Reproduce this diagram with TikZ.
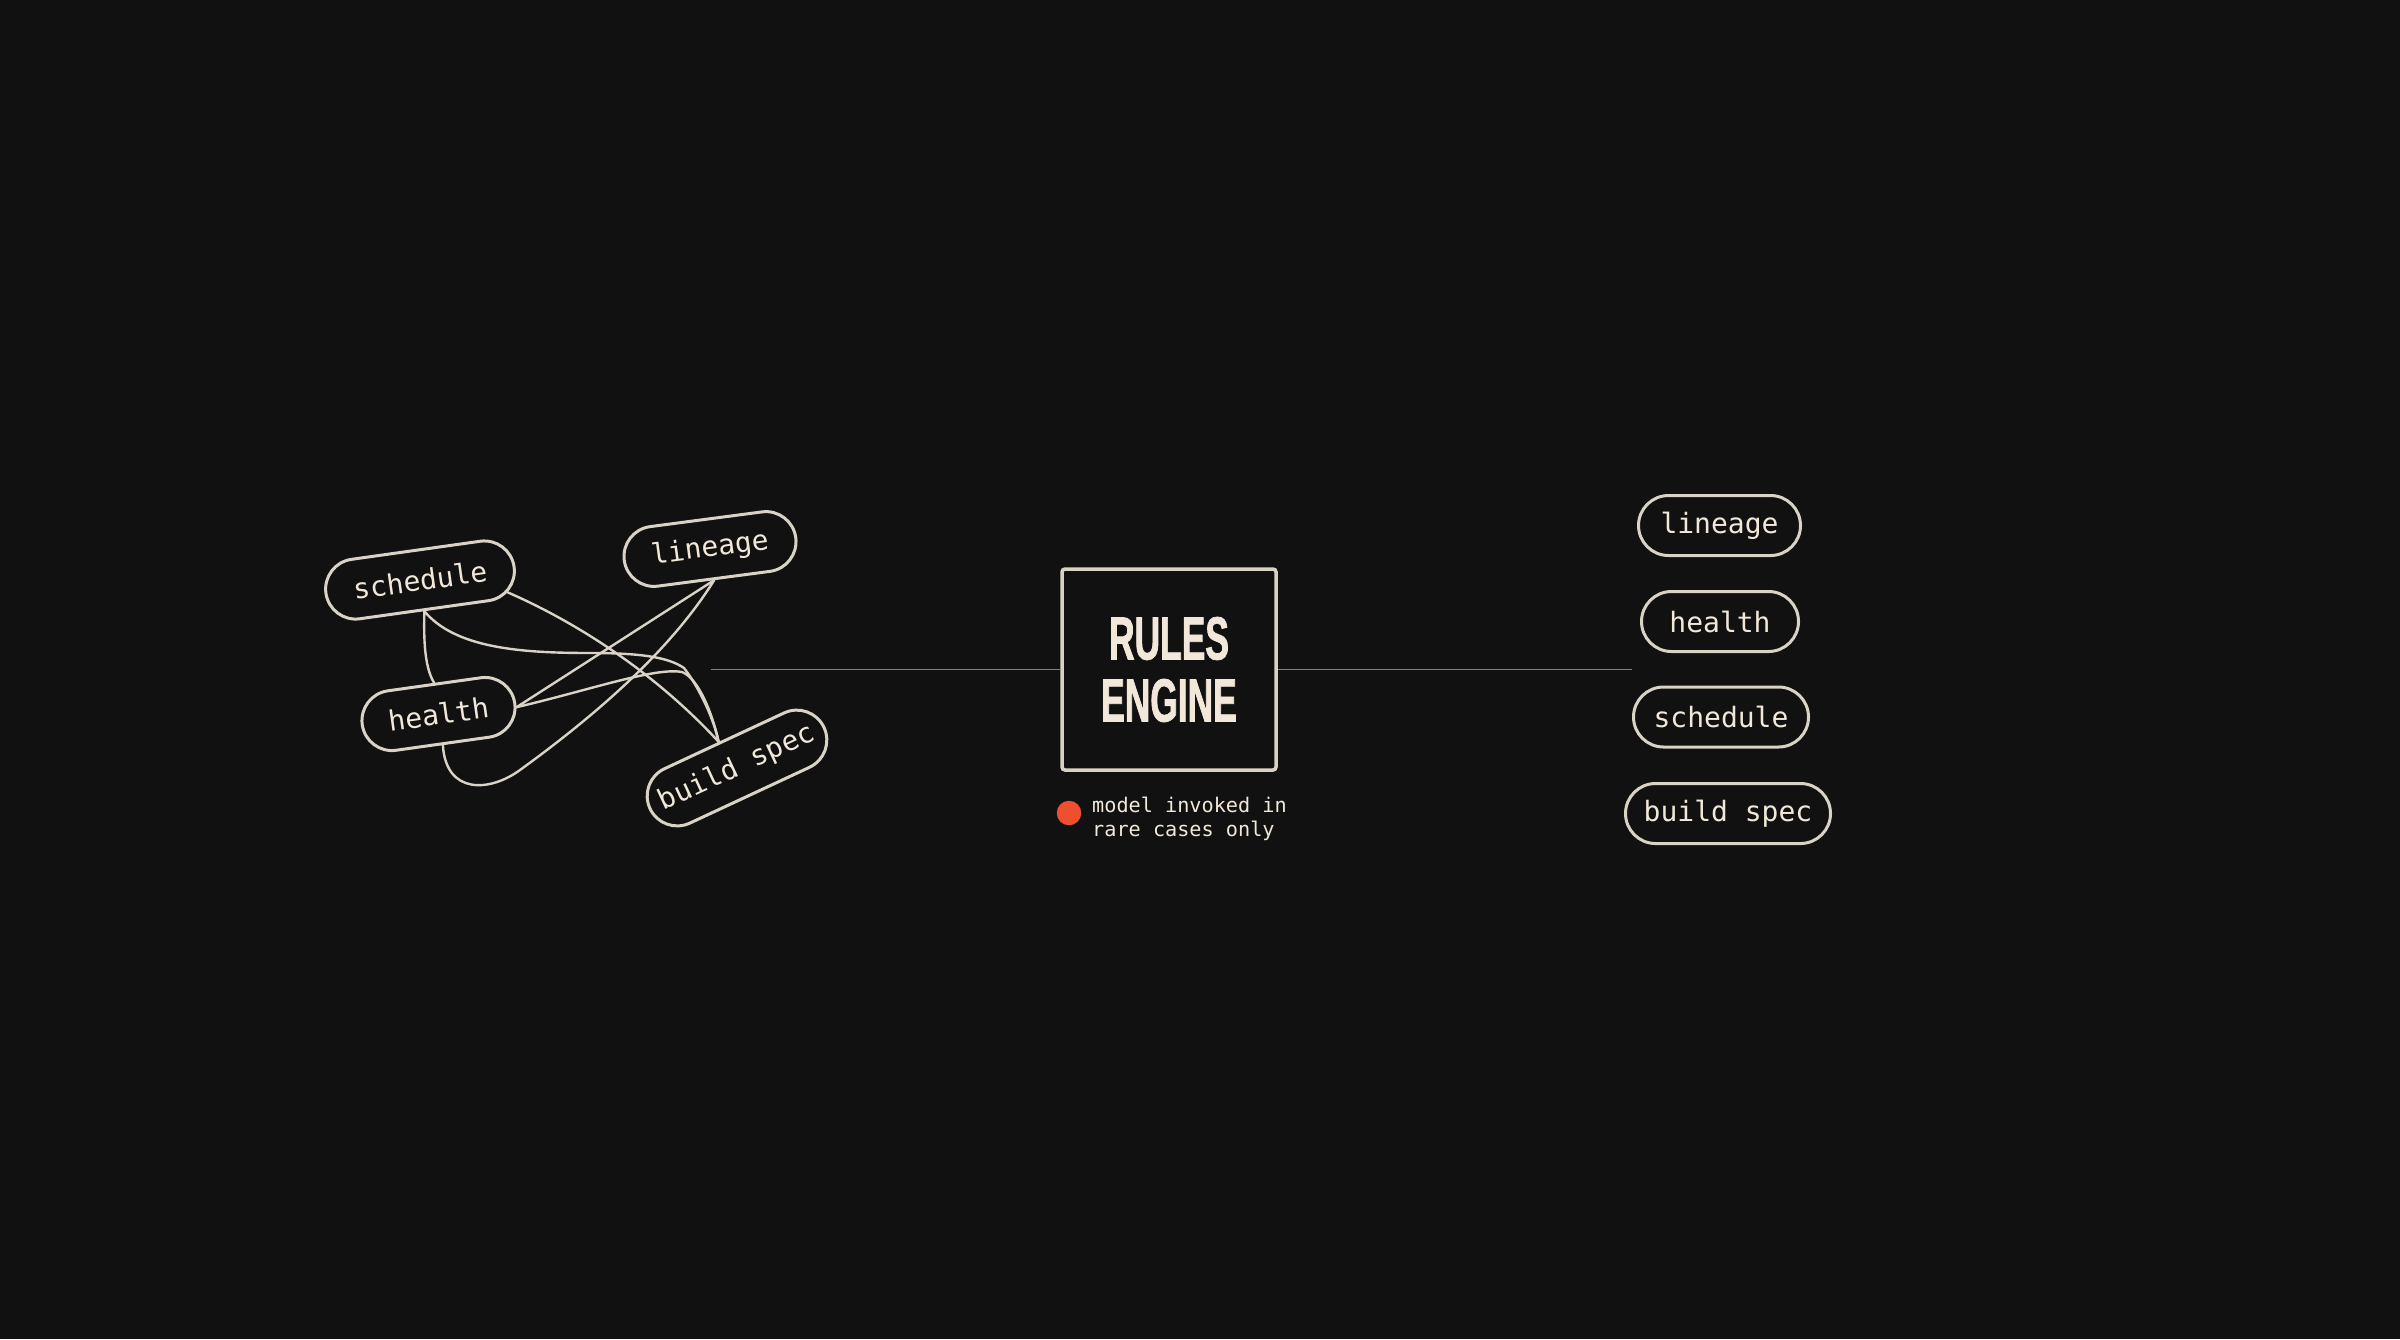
\documentclass[tikz,border=0pt]{standalone}
\usepackage{fontspec}
\usetikzlibrary{shapes.misc}
\newfontfamily\pillfont{DejaVu Sans Mono}
\newfontfamily\rulesfont[FakeStretch=0.58,FakeBold=1.2]{Liberation Sans}
\definecolor{bgc}{HTML}{111111}
\definecolor{cream}{HTML}{D9D3C7}
\definecolor{creamtext}{HTML}{F1E8DA}
\definecolor{greyline}{HTML}{858380}
\definecolor{dotred}{HTML}{EE4F2E}
\pgfdeclarelayer{bg}
\pgfdeclarelayer{links}
\pgfsetlayers{bg,links,main}
\tikzset{
  pill/.style={rounded rectangle, draw=cream, line width=3pt, fill=bgc,
    minimum height=60pt, inner sep=0pt, text=creamtext,
    font=\pillfont\fontsize{28}{30}\selectfont},
  link/.style={draw=cream, line width=2.4pt, line cap=round},
  hline/.style={draw=greyline, line width=1.6pt},
}
\begin{document}
\begin{tikzpicture}[x=1pt,y=-1pt]
\begin{pgfonlayer}{bg}
\fill[bgc] (0,0) rectangle (2400,1339);
\end{pgfonlayer}
\useasboundingbox (0,0) rectangle (2400,1339);

% left tangled cluster
\node[pill, minimum width=190pt, rotate=8] (sched) at (420,580) {schedule};
\node[pill, minimum width=154pt, rotate=8] (health) at (438.5,714) {health};
\node[pill, minimum width=173pt, rotate=7.5] (lineage) at (710,549) {lineage};
\node[pill, minimum width=192pt, rotate=25] (build) at (737,768) {build spec};

\begin{pgfonlayer}{links}
\draw[link] (sched.south) .. controls (424,630) and (423,665) .. (health.north);
\draw[link] (sched.south) .. controls (455,648) and (520,653) .. (590,653)
   .. controls (640,653) and (668,657) .. (684,668)
   .. controls (695,682) and (712,712) .. (build.100);
\draw[link] (sched.-16) .. controls (560,615) and (645,662) .. (build.100);
\draw[link] (health.-3) -- (lineage.south);
\draw[link] (health.-3) .. controls (590,690) and (655,667) .. (682,672)
   .. controls (698,678) and (712,712) .. (build.100);
\draw[link] (health.south) .. controls (446,795) and (490,792) .. (520,770)
   .. controls (600,712) and (672,648) .. (lineage.south);
\end{pgfonlayer}

% rules engine
\node[draw=cream, line width=3.5pt, fill=bgc, rounded corners=3pt,
      minimum width=214pt, minimum height=201pt, inner sep=0pt,
      text=creamtext, align=center,
      font=\rulesfont\bfseries\fontsize{61}{62}\selectfont] (engine) at (1169,669.5)
      {RULES\\ENGINE};

\coordinate (lstart) at (711,669.5);
\coordinate (rend) at (1632,669.5);
\begin{pgfonlayer}{links}
\draw[hline] (lstart) -- (engine.west);
\draw[hline] (engine.east) -- (rend);
\end{pgfonlayer}

% caption
\node[circle, fill=dotred, minimum size=24.5pt, inner sep=0pt] (dot) at (1069,813) {};
\node[anchor=west, inner sep=0pt, align=left, text=creamtext,
      font=\pillfont\fontsize{20.2}{24}\selectfont] (cap) at (1092,819)
      {model invoked in\\rare cases only};

% right ordered column
\node[pill, minimum width=162pt] (rlin) at (1719.5,525.5) {lineage};
\node[pill, minimum width=157pt] (rhea) at (1720,621.5) {health};
\node[pill, minimum width=175pt] (rsch) at (1721,717) {schedule};
\node[pill, minimum width=205pt] (rbui) at (1728,813.5) {build spec};
\end{tikzpicture}
\end{document}
